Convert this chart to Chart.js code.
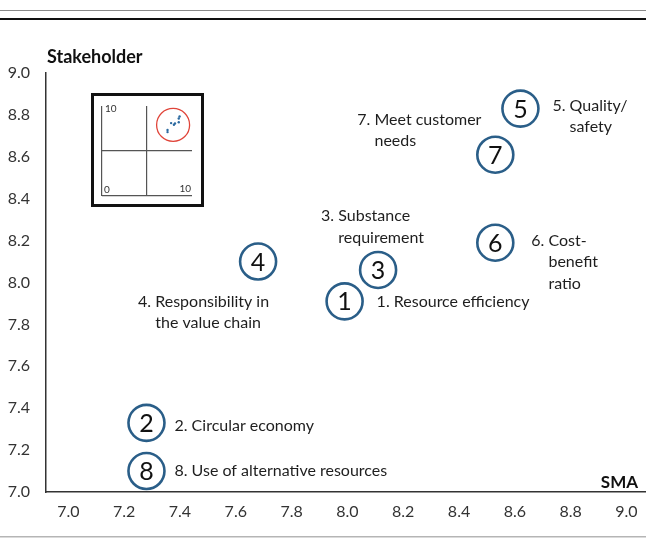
<!DOCTYPE html>
<html>
<head>
<meta charset="utf-8">
<script src="https://cdn.jsdelivr.net/npm/chart.js@4/dist/chart.umd.min.js"></script>
<style>
  html, body { margin: 0; padding: 0; background: #fff; }
  #wrap { position: relative; width: 646px; height: 542px; }
  #main { position: absolute; left: 0; top: 0; }
  #insetBox { position: absolute; left: 91px; top: 93px; width: 113px; height: 114px;
              border: 3px solid #111; box-sizing: border-box; background: #fff; }
  #inset { position: absolute; left: 0; top: 0; }
</style>
</head>
<body>
<div id="wrap">
  <canvas id="main" width="646" height="542"></canvas>
  <div id="insetBox"><canvas id="inset" width="107" height="108"></canvas></div>
</div>
<script>
// ---- data ----
const categories = ['1', '2', '3', '4', '5', '6', '7', '8'];
const labelLines = [
  ['1. Resource efficiency'],
  ['2. Circular economy'],
  ['3. Substance', 'requirement'],
  ['4. Responsibility in', 'the value chain'],
  ['5. Quality/', 'safety'],
  ['6. Cost-', 'benefit', 'ratio'],
  ['7. Meet customer', 'needs'],
  ['8. Use of alternative resources']
];
const smaValues = [7.99, 7.28, 8.11, 7.68, 8.62, 8.53, 8.53, 7.28];
const stakeholderValues = [7.91, 7.33, 8.06, 8.10, 8.83, 8.19, 8.61, 7.10];
const xTickValues = [7.0, 7.2, 7.4, 7.6, 7.8, 8.0, 8.2, 8.4, 8.6, 8.8, 9.0];
const yTickValues = [7.0, 7.2, 7.4, 7.6, 7.8, 8.0, 8.2, 8.4, 8.6, 8.8, 9.0];
const insetHighlight = [{ x: 7.9, y: 7.9 }];

// label placement (pixel offsets of first line from the point, left-aligned)
const labelOffsets = [
  [32, 0], [28, 3], [-57, -54], [-120, 40], [32, -3], [36, -2], [-138, -35], [28, 0]
];

const FONT = 'Lato, "Open Sans", sans-serif';
const BLUE = '#2a5e88';
const TEXT = '#1e1e1e';

const points = smaValues.map((v, i) => ({ x: v, y: stakeholderValues[i] }));

const decorPlugin = {
  id: 'decor',
  beforeDraw(chart) {
    const ctx = chart.ctx;
    ctx.save();
    ctx.fillStyle = '#8a8a8a';
    ctx.fillRect(0, 10, 646, 1);
    ctx.fillStyle = '#111';
    ctx.fillRect(0, 18, 646, 2);
    ctx.fillStyle = '#b5b5b5';
    ctx.fillRect(0, 536, 646, 1.5);
    ctx.restore();
  },
  afterDraw(chart) {
    const ctx = chart.ctx;
    ctx.save();
    ctx.fillStyle = '#111';
    ctx.font = 'bold 18px ' + FONT;
    ctx.textBaseline = 'middle';
    ctx.textAlign = 'left';
    ctx.fillText('Stakeholder', 47, 57);
    ctx.font = 'bold 17px ' + FONT;
    ctx.textAlign = 'right';
    ctx.fillText('SMA', 638, 483);
    ctx.restore();
  }
};

const labelPlugin = {
  id: 'pointLabels',
  afterDatasetsDraw(chart) {
    const ctx = chart.ctx;
    const meta = chart.getDatasetMeta(0);
    ctx.save();
    ctx.textBaseline = 'middle';
    meta.data.forEach((el, i) => {
      ctx.fillStyle = '#111';
      ctx.font = '25px ' + FONT;
      ctx.textAlign = 'center';
      ctx.fillText(categories[i], el.x, el.y + 1);
      ctx.font = '16px ' + FONT;
      ctx.textAlign = 'left';
      ctx.fillStyle = TEXT;
      const lines = labelLines[i];
      const indent = ctx.measureText(categories[i] + '. ').width;
      const [dx, dy] = labelOffsets[i];
      lines.forEach((ln, k) => {
        ctx.fillText(ln, el.x + dx + (k ? indent : 0), el.y + dy + k * 21.5);
      });
    });
    ctx.restore();
  }
};

new Chart(document.getElementById('main'), {
  type: 'scatter',
  data: {
    datasets: [{
      data: points,
      pointRadius: 18,
      pointHoverRadius: 18,
      pointBorderWidth: 2.6,
      pointBorderColor: BLUE,
      pointBackgroundColor: '#fff',
      clip: false
    }]
  },
  options: {
    responsive: false,
    devicePixelRatio: 1,
    animation: false,
    events: [],
    layout: { autoPadding: false, padding: { top: 73, left: 0, right: 0, bottom: 0 } },
    plugins: { legend: { display: false }, tooltip: { enabled: false } },
    scales: {
      x: {
        type: 'linear', min: 6.92, max: 9.07,
        afterBuildTicks(s) { s.ticks = xTickValues.map(v => ({ value: v })); },
        afterFit(s) { s.height = 50; s.paddingLeft = 0; s.paddingRight = 0; },
        grid: { display: false, drawTicks: false },
        border: { display: true, color: '#333', width: 1.5 },
        ticks: { padding: 10, color: '#333', font: { family: FONT, size: 16 },
                 callback: v => Number(v).toFixed(1), maxRotation: 0, autoSkip: false }
      },
      y: {
        type: 'linear', min: 7.0, max: 9.0,
        afterBuildTicks(s) { s.ticks = yTickValues.map(v => ({ value: v })); },
        afterFit(s) { s.width = 46; s.paddingTop = 0; s.paddingBottom = 0; },
        grid: { display: false, drawTicks: false },
        border: { display: true, color: '#333', width: 1.5 },
        ticks: { padding: 16, color: '#333', font: { family: FONT, size: 16 },
                 callback: v => Number(v).toFixed(1), autoSkip: false }
      }
    }
  },
  plugins: [decorPlugin, labelPlugin]
});

// ---- inset overview chart (0–10 scale) ----
const insetTextPlugin = {
  id: 'insetText',
  afterDraw(chart) {
    const ctx = chart.ctx;
    const a = chart.chartArea;
    ctx.save();
    ctx.fillStyle = '#333';
    ctx.font = '10px ' + FONT;
    ctx.textBaseline = 'middle';
    ctx.textAlign = 'left';
    ctx.fillText('10', a.left + 3, a.top + 3);
    ctx.fillText('0', a.left + 2, a.bottom - 6);
    ctx.textAlign = 'right';
    ctx.fillText('10', a.right - 1, a.bottom - 7);
    ctx.restore();
  }
};

const gridColor = c => (c.tick && c.tick.value === 10) ? 'rgba(0,0,0,0)' : '#555';

new Chart(document.getElementById('inset'), {
  type: 'scatter',
  data: {
    datasets: [
      { data: points, pointRadius: 1.2, pointBorderWidth: 0, pointBackgroundColor: '#2c6aa0', clip: false },
      { data: insetHighlight, pointRadius: 16.5, pointBorderWidth: 1.3, pointBorderColor: '#e0453a',
        pointBackgroundColor: 'rgba(0,0,0,0)', clip: false }
    ]
  },
  options: {
    responsive: false,
    devicePixelRatio: 1,
    animation: false,
    events: [],
    layout: { autoPadding: false, padding: { left: 8, right: 9, top: 10, bottom: 8 } },
    plugins: { legend: { display: false }, tooltip: { enabled: false } },
    scales: {
      x: { type: 'linear', min: 0, max: 10, ticks: { display: false, stepSize: 5 },
           afterFit(s) { s.height = 0; },
           grid: { color: gridColor, lineWidth: 1.2, drawTicks: false }, border: { display: false } },
      y: { type: 'linear', min: 0, max: 10, ticks: { display: false, stepSize: 5 },
           afterFit(s) { s.width = 0; },
           grid: { color: gridColor, lineWidth: 1.2, drawTicks: false }, border: { display: false } }
    }
  },
  plugins: [insetTextPlugin]
});
</script>
</body>
</html>
